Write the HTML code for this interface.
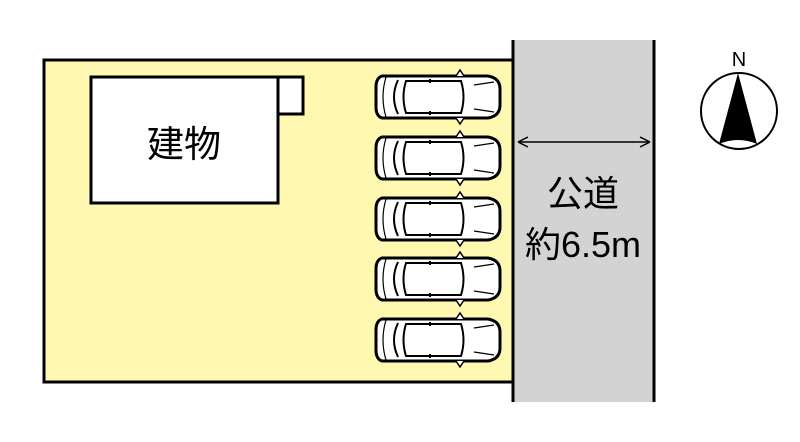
<!DOCTYPE html>
<html><head><meta charset="utf-8"><style>
html,body{margin:0;padding:0;background:#fff;}
svg{display:block}
text{font-family:"Liberation Sans","Noto Sans CJK JP",sans-serif;}
</style></head><body>
<svg width="800" height="442" viewBox="0 0 800 442" xmlns="http://www.w3.org/2000/svg">
<defs>
<g id="car" fill="#fff" stroke="#000" stroke-width="2">
  <path d="M6,-21 L112,-21 Q124,-19 124,-8 L124,8 Q124,19 112,21 L6,21 Q0,19 0,10 L0,-10 Q0,-19 6,-21 Z" stroke-width="3"/>
  <path d="M80,-21 L84,-27 L88,-21 M80,21 L84,27 L88,21" stroke-width="1.5"/>
  <path d="M22,-17 Q14,0 22,17" />
  <path d="M30,-16 L85,-16 Q90,0 85,16 L30,16 Q25,0 30,-16Z"/>
  <path d="M54,-18 L54,-14 M54,14 L54,18"/>
  <path d="M98,-12 L118,-15 M98,12 L118,15" stroke-width="1.2"/>
  <path d="M10,-20 Q4,0 10,20" stroke-width="1.2"/>
</g>
</defs>
<rect x="44" y="60" width="470" height="322" fill="#fff8b0" stroke="#000" stroke-width="3"/>
<rect x="512" y="40" width="142" height="362" fill="#d3d3d3"/>
<line x1="513" y1="40" x2="513" y2="402" stroke="#000" stroke-width="3"/>
<line x1="654" y1="40" x2="654" y2="402" stroke="#000" stroke-width="3"/>
<rect x="91" y="77" width="187" height="126" fill="#fff" stroke="#000" stroke-width="3"/>
<rect x="278" y="77" width="25" height="37" fill="#fff" stroke="#000" stroke-width="3"/>
<text x="184" y="157" font-size="37" text-anchor="middle">建物</text>
<use href="#car" x="376" y="97"/>
<use href="#car" x="376" y="158"/>
<use href="#car" x="376" y="219"/>
<use href="#car" x="376" y="279"/>
<use href="#car" x="376" y="340"/>
<line x1="520" y1="142" x2="648" y2="142" stroke="#000" stroke-width="1.5"/>
<path d="M518,142 L528,137 M518,142 L528,147 M650,142 L640,137 M650,142 L640,147" stroke="#000" stroke-width="1.5" fill="none"/>
<text x="583" y="206" font-size="36" text-anchor="middle">公道</text>
<text x="583" y="257" font-size="36" text-anchor="middle">約6.5m</text>
<circle cx="739" cy="111" r="38" fill="#fff" stroke="#000" stroke-width="2"/>
<path d="M738,73 L719,144 Q738,136 757,144 Z" fill="#000"/>
<text x="739" y="66" font-size="20" text-anchor="middle">N</text>
</svg>
</body></html>
